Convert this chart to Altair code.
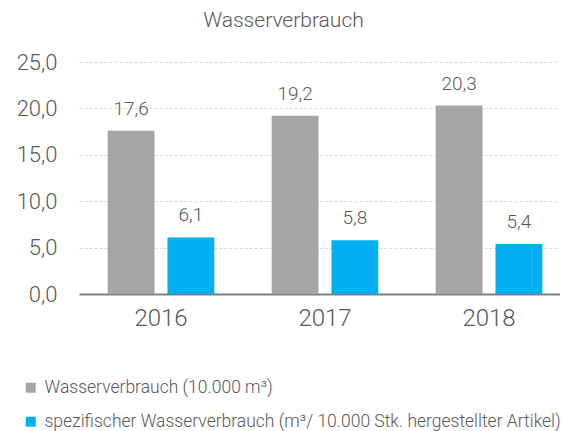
import altair as alt
import pandas as pd

years = ["2016", "2017", "2018"]
series = ["Wasserverbrauch (10.000 m³)",
          "spezifischer Wasserverbrauch (m³/ 10.000 Stk. hergestellter Artikel)"]
total = [17.6, 19.2, 20.3]
specific = [6.1, 5.8, 5.4]
colors = ["#A5A5A5", "#00B0F0"]

rows = []
for i, y in enumerate(years):
    rows.append({"year": y, "series": series[0], "value": total[i]})
    rows.append({"year": y, "series": series[1], "value": specific[i]})
df = pd.DataFrame(rows)

FONT = "Roboto"
TXT = "#595959"

base = alt.Chart(df).encode(
    x=alt.X("year:N", sort=years,
            scale=alt.Scale(paddingInner=0.35, paddingOuter=0.175, range=[0, 492]),
            axis=alt.Axis(title=None, labelAngle=0, labelFontSize=24, labelColor=TXT,
                          labelFont=FONT, labelFontWeight=300, labelPadding=12,
                          domainColor="#808080", domainWidth=2, ticks=False,
                          grid=False)),
    xOffset=alt.XOffset("series:N", sort=series,
                        scale=alt.Scale(paddingInner=0.217, paddingOuter=0)),
)

bars = base.mark_bar().encode(
    y=alt.Y("value:Q", scale=alt.Scale(domain=[0, 25], nice=False, range=[232, 0]),
            stack=None,
            axis=alt.Axis(title=None, values=[0, 5, 10, 15, 20, 25],
                          labelExpr="replace(format(datum.value, '.1f'), '.', ',')",
                          labelFontSize=22, labelColor=TXT, labelFont=FONT,
                          labelFontWeight=300, labelPadding=22, ticks=False,
                          domain=False, gridColor="#D9D9D9", gridDash=[3, 2],
                          gridWidth=1)),
    color=alt.Color("series:N", sort=series,
                    scale=alt.Scale(domain=series, range=colors),
                    legend=alt.Legend(title=None, orient="none", legendX=-57,
                                      legendY=317, direction="vertical",
                                      symbolType="square", symbolSize=100,
                                      symbolStrokeWidth=0, symbolOpacity=1,
                                      labelFontSize=17.5, labelColor=TXT,
                                      labelFont=FONT, labelFontWeight=300,
                                      labelLimit=600, rowPadding=15,
                                      labelOffset=5)),
)

labels = base.mark_text(baseline="bottom", dy=-12, fontSize=19, color=TXT,
                        font=FONT, fontWeight=300).transform_calculate(
    label="replace(format(datum.value, '.1f'), '.', ',')"
).encode(
    y=alt.Y("value:Q", stack=None),
    text="label:N",
)

chart = (bars + labels).properties(
    width=481, height=232,
    title=alt.TitleParams("Wasserverbrauch", fontSize=21, font=FONT,
                          fontWeight=300, color=TXT, anchor="middle",
                          dx=-36, offset=20),
    autosize=alt.AutoSizeParams(type="none"),
    padding={"left": 71, "top": 54, "right": 0, "bottom": 137},
).configure_view(stroke=None)

chart.save("out.html", embed_options={"renderer": "svg", "actions": False})
